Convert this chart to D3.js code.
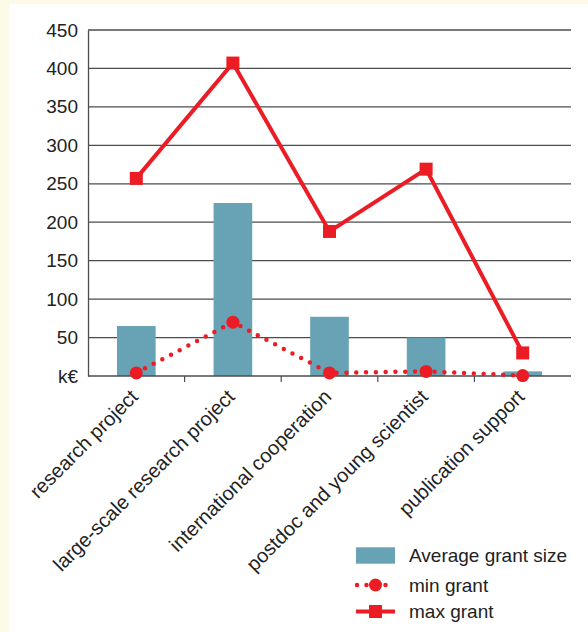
<!DOCTYPE html>
<html>
<head>
<meta charset="utf-8">
<script src="https://cdn.jsdelivr.net/npm/d3@7/dist/d3.min.js"></script>
<style>
  html, body { margin: 0; padding: 0; background: #fefae8; }
  svg { display: block; }
  text { font-family: "Liberation Sans", Arial, Helvetica, sans-serif; fill: #222222; }
</style>
</head>
<body>
<script>
// Grant types and their grant sizes (k€)
const categories = [
  "research project",
  "large-scale research project",
  "international cooperation",
  "postdoc and young scientist",
  "publication support"
];
const averageGrant = [65, 225, 77, 50, 6];
const minGrant = [4, 70, 4, 6, 0.5];
const maxGrant = [257, 407, 188, 269, 30];
const yTicks = [0, 50, 100, 150, 200, 250, 300, 350, 400, 450];
const yTickLabels = ["k€", "50", "100", "150", "200", "250", "300", "350", "400", "450"];
const legendLabels = ["Average grant size", "min grant", "max grant"];

const W = 588, H = 632;
const red = "#ec1c24", barColor = "#68a3b5";
const margin = { left: 88, right: 17, top: 30, bottom: 256 };
const fontSize = 19;

const svg = d3.select("body").append("svg").attr("width", W).attr("height", H);

// white panel on the cream page
svg.append("rect").attr("x", 9).attr("y", 4).attr("width", W - 9).attr("height", H - 4).attr("fill", "#ffffff");

const x = d3.scaleBand().domain(categories).range([margin.left, W - margin.right]).paddingInner(0).paddingOuter(0);
const y = d3.scaleLinear().domain([0, 450]).range([H - margin.bottom, margin.top]);

// horizontal gridlines
svg.append("g").selectAll("line").data(yTicks.filter(d => d > 0)).join("line")
  .attr("x1", margin.left).attr("x2", W - margin.right)
  .attr("y1", d => y(d)).attr("y2", d => y(d))
  .attr("stroke", "#4d4d4d").attr("stroke-width", 1.3);

// y axis
const yAxis = d3.axisLeft(y).tickValues(yTicks).tickSize(0).tickPadding(10)
  .tickFormat((d, i) => yTickLabels[i]);
const gy = svg.append("g").attr("transform", `translate(${margin.left},0)`).call(yAxis);
gy.select(".domain").attr("stroke", "#4d4d4d").attr("stroke-width", 1.3);
gy.selectAll("text").attr("font-size", fontSize).attr("fill", "#222222")
  .style("font-family", "'Liberation Sans', Arial, sans-serif");

// bars
const barW = x.bandwidth() * 0.4;
svg.append("g").selectAll("rect").data(averageGrant).join("rect")
  .attr("x", (d, i) => x(categories[i]) + x.bandwidth() / 2 - barW / 2)
  .attr("width", barW)
  .attr("y", d => y(d))
  .attr("height", d => y(0) - y(d))
  .attr("fill", barColor);

// x axis baseline and separating ticks
const x0 = y(0);
svg.append("line").attr("x1", margin.left).attr("x2", W - margin.right)
  .attr("y1", x0).attr("y2", x0).attr("stroke", "#4d4d4d").attr("stroke-width", 1.3);
svg.append("g").selectAll("line").data(categories.slice(1)).join("line")
  .attr("x1", d => x(d)).attr("x2", d => x(d))
  .attr("y1", x0).attr("y2", x0 + 6)
  .attr("stroke", "#4d4d4d").attr("stroke-width", 1.2);

// rotated category labels
svg.append("g").selectAll("text").data(categories).join("text")
  .attr("transform", d => `translate(${x(d) + x.bandwidth() / 2 + 3},${x0 + 22}) rotate(-45)`)
  .attr("text-anchor", "end")
  .attr("font-size", 20)
  .text(d => d);

const cx = (d, i) => x(categories[i]) + x.bandwidth() / 2;

// min grant: dotted line with round markers
const minLine = d3.line().x((d, i) => cx(d, i)).y(d => y(d));
svg.append("path").datum(minGrant).attr("d", minLine)
  .attr("fill", "none").attr("stroke", red).attr("stroke-width", 4.5)
  .attr("stroke-linecap", "round").attr("stroke-dasharray", "0,9.8");
svg.append("g").selectAll("circle").data(minGrant).join("circle")
  .attr("cx", (d, i) => cx(d, i)).attr("cy", d => y(d)).attr("r", 6.5).attr("fill", red);

// max grant: solid line with square markers
const maxLine = d3.line().x((d, i) => cx(d, i)).y(d => y(d));
svg.append("path").datum(maxGrant).attr("d", maxLine)
  .attr("fill", "none").attr("stroke", red).attr("stroke-width", 4);
svg.append("g").selectAll("rect").data(maxGrant).join("rect")
  .attr("x", (d, i) => cx(d, i) - 6.5).attr("y", d => y(d) - 6.5)
  .attr("width", 13).attr("height", 13).attr("fill", red);

// legend
const lg = svg.append("g");
const lx = 356, lw = 39, tx = 409;
const rows = [555.5, 585, 611.5];
lg.append("rect").attr("x", lx).attr("y", rows[0] - 8.2).attr("width", lw).attr("height", 16.4).attr("fill", barColor);
lg.append("line").attr("x1", lx + 1).attr("x2", lx + lw).attr("y1", rows[1]).attr("y2", rows[1])
  .attr("stroke", red).attr("stroke-width", 4.5).attr("stroke-linecap", "round").attr("stroke-dasharray", "0,9.5");
lg.append("circle").attr("cx", lx + lw / 2).attr("cy", rows[1]).attr("r", 6.5).attr("fill", red);
lg.append("line").attr("x1", lx).attr("x2", lx + lw).attr("y1", rows[2]).attr("y2", rows[2])
  .attr("stroke", red).attr("stroke-width", 4);
lg.append("rect").attr("x", lx + lw / 2 - 6.5).attr("y", rows[2] - 6.5).attr("width", 13).attr("height", 13).attr("fill", red);
lg.selectAll("text.lab").data(legendLabels).join("text")
  .attr("class", "lab")
  .attr("x", tx).attr("y", (d, i) => rows[i]).attr("dy", "0.36em")
  .attr("font-size", fontSize).text(d => d);
</script>
</body>
</html>
